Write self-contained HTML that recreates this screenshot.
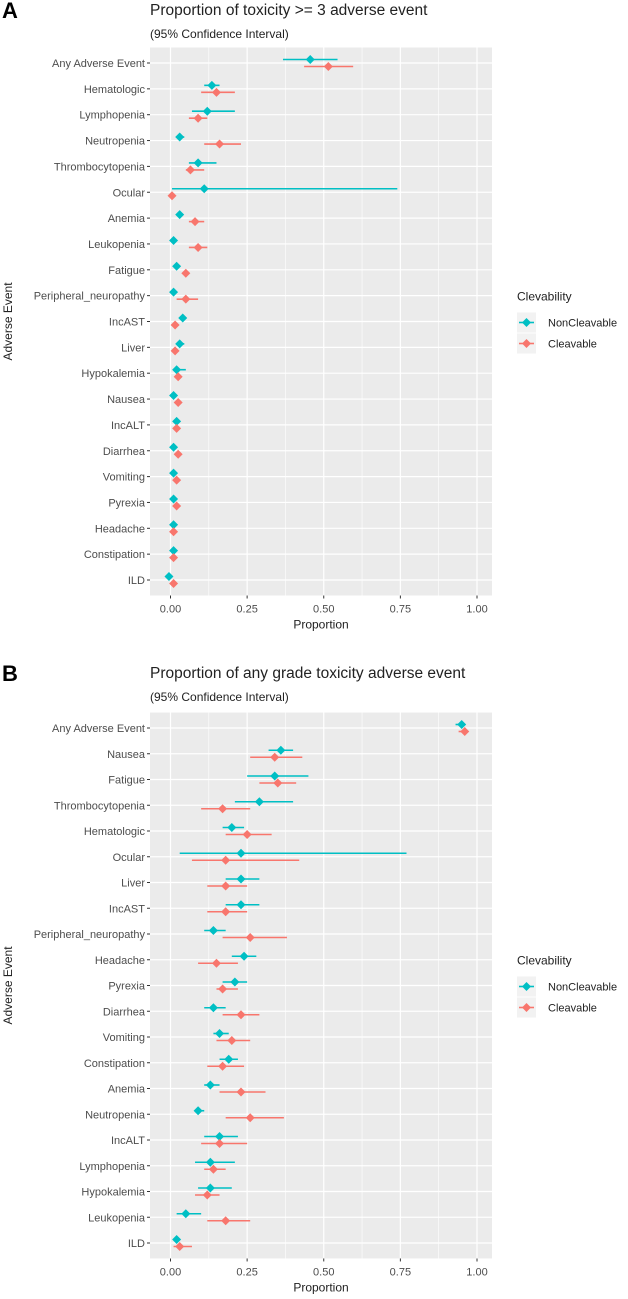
<!DOCTYPE html>
<html><head><meta charset="utf-8">
<style>
html,body{margin:0;padding:0;background:#fff;}
svg{display:block;font-family:"Liberation Sans",Arial,sans-serif;}
</style></head>
<body>
<svg id="chart" width="628" height="1299" viewBox="0 0 628 1299" xmlns="http://www.w3.org/2000/svg"></svg>
<script>
const categoriesA = ["Any Adverse Event","Hematologic","Lymphopenia","Neutropenia","Thrombocytopenia","Ocular","Anemia","Leukopenia","Fatigue","Peripheral_neuropathy","IncAST","Liver","Hypokalemia","Nausea","IncALT","Diarrhea","Vomiting","Pyrexia","Headache","Constipation","ILD"];
const tealA   = [0.456,0.135,0.12,0.03,0.09,0.11,0.03,0.01,0.02,0.01,0.04,0.03,0.02,0.01,0.02,0.01,0.01,0.01,0.01,0.01,-0.005];
const tealALo = [0.367,0.11,0.07,0.02,0.06,0.005,0.02,0.005,0.01,0.005,0.03,0.02,0.01,0.005,0.01,0.005,0.005,0.005,0.005,0.005,-0.01];
const tealAHi = [0.545,0.16,0.21,0.045,0.15,0.74,0.04,0.02,0.03,0.02,0.05,0.045,0.05,0.02,0.03,0.02,0.02,0.02,0.02,0.02,0.0];
const redA    = [0.515,0.15,0.09,0.16,0.065,0.005,0.08,0.09,0.05,0.05,0.015,0.015,0.025,0.025,0.02,0.025,0.02,0.02,0.01,0.01,0.01];
const redALo  = [0.436,0.10,0.06,0.11,0.05,0.0,0.06,0.06,0.04,0.02,0.01,0.01,0.015,0.02,0.01,0.02,0.015,0.015,0.005,0.005,0.005];
const redAHi  = [0.596,0.21,0.12,0.23,0.11,0.01,0.11,0.12,0.06,0.09,0.025,0.025,0.035,0.03,0.025,0.03,0.025,0.025,0.015,0.015,0.015];

const categoriesB = ["Any Adverse Event","Nausea","Fatigue","Thrombocytopenia","Hematologic","Ocular","Liver","IncAST","Peripheral_neuropathy","Headache","Pyrexia","Diarrhea","Vomiting","Constipation","Anemia","Neutropenia","IncALT","Lymphopenia","Hypokalemia","Leukopenia","ILD"];
const tealB   = [0.95,0.36,0.34,0.29,0.20,0.23,0.23,0.23,0.14,0.24,0.21,0.14,0.16,0.19,0.13,0.09,0.16,0.13,0.13,0.05,0.02];
const tealBLo = [0.93,0.32,0.25,0.21,0.17,0.03,0.18,0.18,0.11,0.20,0.17,0.11,0.14,0.16,0.11,0.08,0.11,0.08,0.09,0.02,0.01];
const tealBHi = [0.96,0.40,0.45,0.40,0.24,0.77,0.29,0.29,0.18,0.28,0.25,0.18,0.19,0.22,0.16,0.11,0.22,0.21,0.20,0.10,0.03];
const redB    = [0.96,0.34,0.35,0.17,0.25,0.18,0.18,0.18,0.26,0.15,0.17,0.23,0.20,0.17,0.23,0.26,0.16,0.14,0.12,0.18,0.03];
const redBLo  = [0.94,0.26,0.29,0.10,0.18,0.07,0.12,0.12,0.17,0.09,0.15,0.17,0.15,0.12,0.16,0.18,0.10,0.11,0.08,0.12,0.01];
const redBHi  = [0.97,0.43,0.41,0.26,0.33,0.42,0.25,0.25,0.38,0.22,0.22,0.29,0.26,0.24,0.31,0.37,0.25,0.18,0.16,0.26,0.07];

const xTicks = [0, 0.25, 0.5, 0.75, 1];
const xTickLabels = ["0.00","0.25","0.50","0.75","1.00"];
const legendLabels = ["NonCleavable","Cleavable"];

const NS="http://www.w3.org/2000/svg";
const svg=document.getElementById('chart');
function mk(tag,attrs,parent){const e=document.createElementNS(NS,tag);for(const k in attrs)e.setAttribute(k,attrs[k]);(parent||svg).appendChild(e);return e;}
const TEAL="#00bfc4", RED="#f8766d";
const PL=150, PR=492, X0=170.5, X1=477;
const xScale=v=>X0+(X1-X0)*v;

function diamond(g,cx,cy,color,r){
  return mk('polygon',{points:`${cx},${cy-r} ${cx+r},${cy} ${cx},${cy+r} ${cx-r},${cy}`,fill:color},g);
}

function panel(o){
  const g=mk('g',{});
  
  
  const n=o.cats.length;
  const step=(o.yLast-o.yFirst)/(n-1);
  const yScale=i=>o.yFirst+step*i;
  const top=o.yFirst-0.6*step, bot=o.yLast+0.6*step;
  // letter
  const L=mk('text',{x:2,y:o.titleY+8,'font-size':22,'font-weight':'bold',fill:'#000'},g);
  L.textContent=o.letter;
  
  
  const t=mk('text',{x:150,y:o.titleY+5,'font-size':15.5,fill:'#222'},g);
  t.textContent=o.title;
  
  
  const st=mk('text',{x:150,y:o.titleY+28,'font-size':12,fill:'#222'},g);
  st.textContent="(95% Confidence Interval)";
  
  
  const bg=mk('rect',{x:PL,y:top,width:PR-PL,height:bot-top,fill:'#ebebeb'},g);
  
  
  // minor grid
  for(let i=0;i<xTicks.length-1;i++){
    const xm=xScale((xTicks[i]+xTicks[i+1])/2);
    mk('line',{x1:xm,x2:xm,y1:top,y2:bot,stroke:'#fff','stroke-width':0.6},g);
  }
  xTicks.forEach((v,i)=>{
    const x=xScale(v);
    mk('line',{x1:x,x2:x,y1:top,y2:bot,stroke:'#fff','stroke-width':1.2},g);
    mk('line',{x1:x,x2:x,y1:bot,y2:bot+3,stroke:'#333','stroke-width':1},g);
    const tl=mk('text',{x:x,y:bot+17,'font-size':11,fill:'#4d4d4d','text-anchor':'middle'},g);
    tl.textContent=xTickLabels[i];
    
    
  });
  o.cats.forEach((c,i)=>{
    const y=yScale(i);
    mk('line',{x1:PL,x2:PR,y1:y,y2:y,stroke:'#fff','stroke-width':1.2},g);
    mk('line',{x1:PL-3,x2:PL,y1:y,y2:y,stroke:'#333','stroke-width':1},g);
    const yl=mk('text',{x:PL-5,y:y+4,'font-size':11,fill:'#4d4d4d','text-anchor':'end'},g);
    yl.textContent=c;
    
    
  });
  const series=[[o.t,o.tLo,o.tHi,TEAL,-3.5,'noncleavable'],[o.r,o.rLo,o.rHi,RED,3.5,'cleavable']];
  series.forEach(s=>{
    s[0].forEach((v,i)=>{
      const y=yScale(i)+s[4];
      const ln=mk('line',{x1:xScale(s[1][i]),x2:xScale(s[2][i]),y1:y,y2:y,stroke:s[3],'stroke-width':1.6},g);
      
      
      const d=diamond(g,xScale(v),y,s[3],4.5);
      
      
    });
  });
  const xt=mk('text',{x:(PL+PR)/2,y:bot+33,'font-size':12,fill:'#222','text-anchor':'middle'},g);
  xt.textContent="Proportion";
  
  
  const my=(top+bot)/2;
  const yt=mk('text',{x:12,y:my,'font-size':12,fill:'#222','text-anchor':'middle',transform:`rotate(-90 12 ${my})`},g);
  yt.textContent="Adverse Event";
  
  
  // legend
  const lg=mk('g',{},g);
  
  
  const lt=mk('text',{x:517,y:my-21,'font-size':12,fill:'#222'},lg);
  lt.textContent="Clevability";
  
  
  [[TEAL,0],[RED,1]].forEach(([col,k])=>{
    const ly=my+k*21+1;
    mk('rect',{x:517,y:ly-10,width:19,height:20,fill:'#f2f2f2'},lg);
    mk('line',{x1:519,x2:534,y1:ly,y2:ly,stroke:col,'stroke-width':1.6},lg);
    diamond(lg,526.5,ly,col,4.5);
    const tx=mk('text',{x:548,y:ly+4,'font-size':11,fill:'#222'},lg);
    tx.textContent=legendLabels[k];
    
    
  });
}

panel({name:'panel-a',letter:'A',title:'Proportion of toxicity >= 3 adverse event',titleY:10,yFirst:63,yLast:580,cats:categoriesA,t:tealA,tLo:tealALo,tHi:tealAHi,r:redA,rLo:redALo,rHi:redAHi});
panel({name:'panel-b',letter:'B',title:'Proportion of any grade toxicity adverse event',titleY:673,yFirst:728,yLast:1243,cats:categoriesB,t:tealB,tLo:tealBLo,tHi:tealBHi,r:redB,rLo:redBLo,rHi:redBHi});
</script>
</body></html>
